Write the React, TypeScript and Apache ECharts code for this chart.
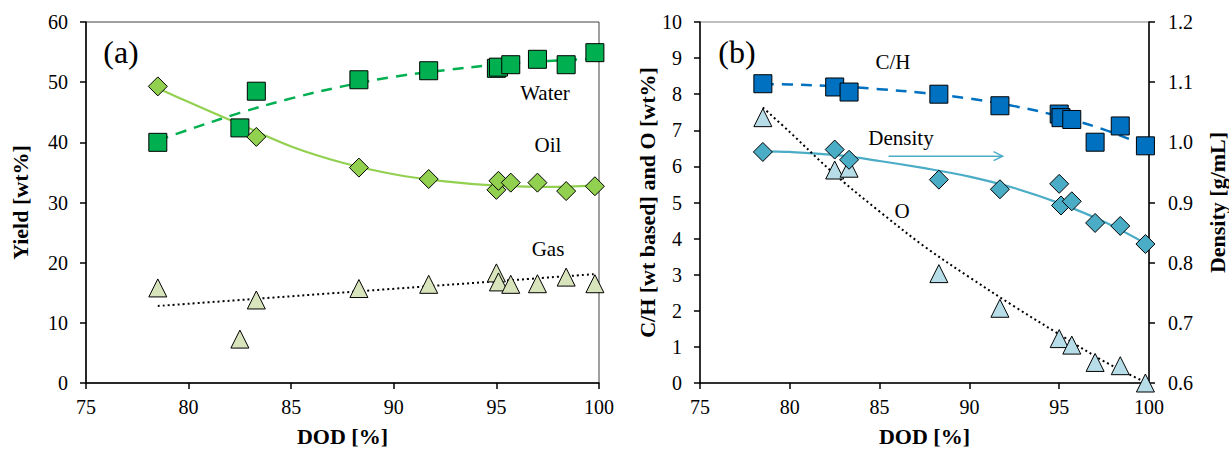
import React, { useEffect, useRef } from "react";
import * as echarts from "echarts";

// ---------- data ----------
const dod = [78.5, 82.5, 83.3, 88.3, 91.7, 95.0, 95.1, 95.7, 97.0, 98.4, 99.8];
const water = [40.0, 42.4, 48.5, 50.4, 51.9, 52.3, 52.5, 52.9, 53.8, 52.9, 54.9];
const oil = [49.3, null, 40.9, 35.8, 33.9, 32.1, 33.6, 33.3, 33.3, 31.9, 32.7];
const gas = [15.8, 7.3, 13.8, 15.7, 16.4, 18.3, 16.8, 16.4, 16.5, 17.6, 16.5];

const chRatio = [8.29, 8.2, 8.06, 8.0, 7.68, 7.45, 7.35, 7.3, 6.67, 7.12, 6.57];
const density = [0.984, 0.988, 0.971, 0.938, 0.922, 0.931, 0.895, 0.902, 0.866, 0.861, 0.831];
const oxygen = [7.35, 5.9, 5.95, 3.03, 2.07, 1.23, null, 1.05, 0.57, 0.48, 0.0];

// trend lines
const trendX = [78.5, 80, 82.5, 85, 87.5, 90, 92.5, 95, 97.5, 99.8];
const waterTrend = [40.3, 42.1, 44.9, 47.3, 49.3, 50.9, 52.0, 52.9, 53.5, 53.9];
const oilTrend = [49.0, 46.7, 43.0, 39.3, 36.6, 34.7, 33.5, 32.8, 32.6, 32.8];
const gasTrendX = [78.5, 99.8];
const gasTrend = [12.8, 18.1];
const chTrend = [8.28, 8.27, 8.22, 8.14, 8.03, 7.88, 7.67, 7.39, 7.02, 6.58];
const densTrend = [0.985, 0.984, 0.979, 0.969, 0.957, 0.943, 0.924, 0.899, 0.868, 0.832];
const oTrend = [7.63, 6.95, 5.78, 4.75, 3.78, 2.93, 2.12, 1.35, 0.6, 0.02];

const arrowStart = [85.5, 0.977];
const arrowEnd = [91.85, 0.977];

const xTicks = { min: 75, max: 100, interval: 5 };
const yieldTicks = { min: 0, max: 60, interval: 10 };
const leftTicksB = { min: 0, max: 10, interval: 1 };
const densTicks = { min: 0.6, max: 1.2, interval: 0.1 };

const FONT = "Liberation Serif, serif";

const pairs = (xs: number[], ys: (number | null)[]) =>
  xs.map((x, i) => [x, ys[i]]).filter((p) => p[1] !== null);

export default function App() {
  const ref = useRef<HTMLDivElement>(null);
  useEffect(() => {
    if (!ref.current) return;
    const chart = echarts.init(ref.current, undefined, { renderer: "svg" });

    const axisLabel = { fontFamily: FONT, fontSize: 20, color: "#000" };
    const axisLine = { show: true, lineStyle: { color: "#000", width: 1.5 } };
    const axisTick = { show: true, length: 6, lineStyle: { color: "#000", width: 1.5 } };
    const nameTextStyle = { fontFamily: FONT, fontSize: 22, fontWeight: "bold", color: "#000" };

    const xAx = (gi: number) => ({
      type: "value",
      gridIndex: gi,
      ...xTicks,
      name: "DOD [%]",
      nameLocation: "middle",
      nameGap: 42,
      nameTextStyle,
      axisLine,
      axisTick,
      axisLabel: { ...axisLabel, margin: 14 },
      splitLine: { show: false },
    });

    const lineS = (
      xi: number,
      yi: number,
      xs: number[],
      ys: number[],
      color: string,
      type: any,
      width: number
    ) => ({
      type: "line",
      xAxisIndex: xi,
      yAxisIndex: yi,
      data: pairs(xs, ys),
      smooth: 0.35,
      showSymbol: false,
      symbol: "none",
      silent: true,
      z: 2,
      lineStyle: { color, type, width },
    });

    const scat = (
      xi: number,
      yi: number,
      ys: (number | null)[],
      symbol: string,
      size: number,
      color: string
    ) => ({
      type: "scatter",
      xAxisIndex: xi,
      yAxisIndex: yi,
      data: pairs(dod, ys),
      symbol,
      symbolSize: size,
      z: 3,
      itemStyle: { color, borderColor: "#000", borderWidth: 1, opacity: 1 },
    });

    const txt = (text: string, x: number, y: number, size = 21) => ({
      type: "text",
      x,
      y,
      z: 10,
      style: {
        text,
        fontFamily: FONT,
        fontSize: size,
        fill: "#000",
        align: "center",
        verticalAlign: "middle",
      },
    });

    const series: any[] = [
      lineS(0, 0, trendX, waterTrend, "#00B050", [11, 8], 2.5),
      lineS(0, 0, trendX, oilTrend, "#92D050", "solid", 2.2),
      lineS(0, 0, gasTrendX, gasTrend, "#000", [2, 3], 2),
      scat(0, 0, water, "rect", 18, "#00B050"),
      scat(0, 0, oil, "diamond", 19, "#92D050"),
      scat(0, 0, gas, "triangle", 18, "#D8E4BC"),
      lineS(1, 1, trendX, chTrend, "#0070C0", [11, 8], 2.5),
      lineS(1, 2, trendX, densTrend, "#4BACC6", "solid", 2.2),
      lineS(1, 1, trendX, oTrend, "#000", [2, 3], 2),
      scat(1, 1, oxygen, "triangle", 18, "#B7DEE8"),
      scat(1, 2, density, "diamond", 19, "#4BACC6"),
      scat(1, 1, chRatio, "rect", 18, "#0070C0"),
    ];

    chart.setOption({
      animation: false,
      backgroundColor: "#fff",
      grid: [
        { left: 86, top: 22, width: 513, height: 364, show: true, borderColor: "#404040", borderWidth: 1 },
        { left: 700, top: 22, width: 449, height: 366, show: true, borderColor: "#808080", borderWidth: 1 },
      ],
      xAxis: [xAx(0), xAx(1)],
      yAxis: [
        {
          type: "value",
          gridIndex: 0,
          ...yieldTicks,
          name: "Yield [wt%]",
          nameLocation: "middle",
          nameGap: 55,
          nameRotate: 90,
          nameTextStyle,
          axisLine,
          axisTick,
          axisLabel: { ...axisLabel, margin: 18 },
          splitLine: { show: false },
        },
        {
          type: "value",
          gridIndex: 1,
          ...leftTicksB,
          name: "C/H [wt based] and O [wt%]",
          nameLocation: "middle",
          nameGap: 42,
          nameRotate: 90,
          nameTextStyle,
          axisLine,
          axisTick,
          axisLabel: { ...axisLabel, margin: 18 },
          splitLine: { show: false },
        },
        {
          type: "value",
          gridIndex: 1,
          position: "right",
          ...densTicks,
          name: "Density [g/mL]",
          nameLocation: "middle",
          nameGap: 57,
          nameRotate: 90,
          nameTextStyle,
          axisLine,
          axisTick,
          axisLabel: { ...axisLabel, margin: 19, formatter: (v: number) => v.toFixed(1) },
          splitLine: { show: false },
        },
      ],
      series,
    });

    const densIdx = 7;
    const p0 = chart.convertToPixel({ seriesIndex: densIdx }, arrowStart) as number[];
    const p1 = chart.convertToPixel({ seriesIndex: densIdx }, arrowEnd) as number[];

    chart.setOption({
      graphic: [
        txt("(a)", 121, 52, 32),
        txt("Water", 545, 93),
        txt("Oil", 548, 145),
        txt("Gas", 548, 249),
        txt("(b)", 737, 52, 32),
        txt("C/H", 893, 62),
        txt("Density", 901, 138),
        txt("O", 902, 211),
        {
          type: "line",
          z: 10,
          shape: { x1: p0[0], y1: p0[1], x2: p1[0], y2: p1[1] },
          style: { stroke: "#4BACC6", lineWidth: 1.5 },
        },
        {
          type: "polyline",
          z: 10,
          shape: { points: [[p1[0] - 9, p1[1] - 4.5], [p1[0], p1[1]], [p1[0] - 9, p1[1] + 4.5]] },
          style: { stroke: "#4BACC6", lineWidth: 1.5, fill: "none" },
        },
      ],
    });

    return () => chart.dispose();
  }, []);

  return (
    <div
      ref={ref}
      style={{ position: "absolute", left: 0, top: 0, width: 1229, height: 452, background: "#fff" }}
    />
  );
}
